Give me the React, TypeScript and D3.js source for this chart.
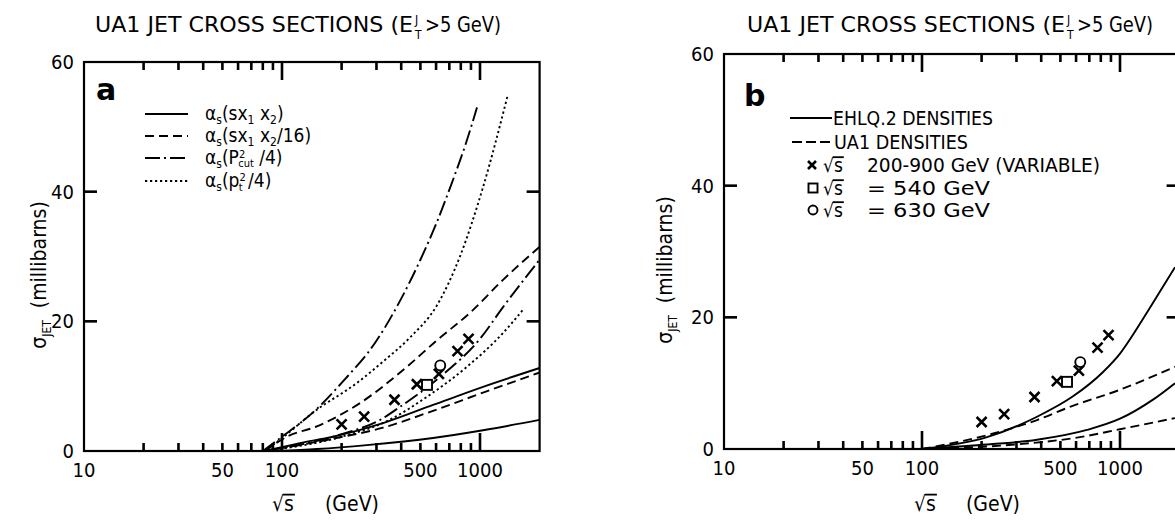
import React, { useRef, useEffect, useState } from 'react';
import * as d3 from 'd3';

const FONT = "'DejaVu Sans Condensed', 'DejaVu Sans', sans-serif";

// sqrt(s) in GeV on x, sigma_JET in millibarns on y
const xDomain = [10, 2000];
const yDomain = [0, 60];
const xLabelTicks = [10, 50, 100, 500, 1000];
const xMajorTicks = [100, 1000];
const xMinorTicks = [20, 30, 40, 50, 60, 70, 80, 90, 200, 300, 400, 500, 600, 700, 800, 900];
const yLabelTicks = [0, 20, 40, 60];
const yInnerTicks = [20, 40];

// panel a: predictions for the four alpha_s scales (two sets each)
const aSolidLow = [[95, 0], [150, 0.3], [268, 0.9], [579, 2.0], [1036, 3.2], [2000, 4.8]];
const aSolidHigh = [[82, 0], [123, 1.2], [181, 2.2], [324, 4.3], [579, 7.1], [1036, 9.9], [2000, 12.8]];
const aDashLow = [[82, 0], [181, 1.9], [324, 3.6], [579, 6.2], [1036, 9.0], [2000, 12.1]];
const aDashHigh = [[82, 0], [106, 2.2], [150, 3.8], [248, 7.4], [428, 13], [607, 17.1], [889, 21.3], [1307, 26.4], [2000, 31.5]];
const aDashDotMid = [[82, 0], [200, 2.6], [313, 4.8], [394, 6.8], [627, 11.4], [1000, 17.3], [1307, 22.2], [2000, 29.5]];
const aDashDotHigh = [[80, 0], [100, 2.2], [150, 6.5], [200, 10.5], [300, 17], [400, 23.5], [500, 29.5], [600, 35], [722, 41.4], [850, 47.5], [966, 53]];
const aDotMid = [[82, 0], [200, 2.2], [339, 4.6], [536, 8.3], [860, 13], [1307, 18.2], [1650, 21.8]];
const aDotHigh = [[82, 0], [106, 2.6], [143, 5.9], [239, 10.5], [330, 14], [443, 17.5], [607, 22.5], [792, 30], [1036, 40.7], [1384, 55]];

// panel b: EHLQ.2 (solid) vs UA1 (dashed) densities
const bSolidHigh = [[100, 0], [213, 1.8], [381, 4.9], [579, 8], [821, 11.7], [1000, 14.5], [1200, 18], [1419, 21.5], [1650, 24.7], [1896, 27.6]];
const bDashHigh = [[100, 0], [213, 2.1], [381, 4.4], [559, 6.4], [1000, 9.0], [1896, 12.5]];
const bSolidLow = [[100, 0], [175, 0.5], [381, 1.4], [681, 2.9], [1000, 4.6], [1468, 7.5], [1896, 10]];
const bDashLow = [[100, 0], [300, 0.7], [628, 1.8], [1000, 3.0], [1896, 4.7]];

// UA1 measurements
const crossE = [200, 260, 370, 480, 620, 770, 875];
const crossV = [4.1, 5.3, 7.9, 10.3, 11.9, 15.4, 17.3];
const squareE = [540];
const squareV = [10.2];
const circleE = [630];
const circleV = [13.2];

const DASH = { solid: undefined, dash: '9,5', dashdot: '15,4,2,4', dot: '2.2,2.8' };

const panels = [
  {
    key: 'a', left: 84, right: 539.6, top: 62, bottom: 451,
    curves: [
      [aSolidLow, 'solid'], [aSolidHigh, 'solid'], [aDashLow, 'dash'], [aDashHigh, 'dash'],
      [aDashDotMid, 'dashdot'], [aDashDotHigh, 'dashdot'], [aDotMid, 'dot'], [aDotHigh, 'dot'],
    ],
  },
  {
    key: 'b', left: 724, right: 1179.6, top: 54, bottom: 449,
    curves: [[bSolidHigh, 'solid'], [bDashHigh, 'dash'], [bSolidLow, 'solid'], [bDashLow, 'dash']],
  },
];

const Sub = ({ t, size = 12, dy = 4 }) => <tspan dy={dy} fontSize={size}>{t}</tspan>;

const Title = ({ x }) => (
  <g>
    <text x={x} y={32} fontSize={21} textLength={318} lengthAdjust="spacingAndGlyphs">UA1  JET CROSS SECTIONS (E</text>
    <text x={x + 320} y={24} fontSize={12}>J</text>
    <text x={x + 320} y={39} fontSize={12}>T</text>
    <text x={x + 330} y={32} fontSize={21} textLength={76} lengthAdjust="spacingAndGlyphs">&gt;5 GeV)</text>
  </g>
);

const YTitle = ({ x, y }) => (
  <text transform={`translate(${x},${y}) rotate(-90)`} textAnchor="middle" fontSize={21}>
    σ<Sub t="JET" size={12} dy={5} /><tspan dy={-5} dx={12}>(millibarns)</tspan>
  </text>
);

// a tick drawn as a small filled bar
const Bar = ({ x1, y1, x2, y2, w = 2.6 }) => (
  <rect
    x={Math.min(x1, x2) - (x1 === x2 ? w / 2 : 0)}
    y={Math.min(y1, y2) - (y1 === y2 ? w / 2 : 0)}
    width={x1 === x2 ? w : Math.abs(x2 - x1)}
    height={y1 === y2 ? w : Math.abs(y2 - y1)}
    fill="#000"
  />
);

const Panel = ({ p }) => {
  const x = d3.scaleLog().domain(xDomain).range([p.left, p.right]);
  const y = d3.scaleLinear().domain(yDomain).range([p.bottom, p.top]);
  const line = d3.line()
    .x((d) => x(d[0]))
    .y((d) => y(d[1]))
    .curve(d3.curveMonotoneX);
  const stroke = { stroke: '#000', strokeWidth: 1.9, fill: 'none' };
  const xt = (v, len, k) => (
    <g key={k}>
      <Bar x1={x(v)} x2={x(v)} y1={p.bottom - len} y2={p.bottom} />
      <Bar x1={x(v)} x2={x(v)} y1={p.top} y2={p.top + len} />
    </g>
  );
  return (
    <g>
      {xMinorTicks.map((v) => xt(v, 8, `m${v}`))}
      {xMajorTicks.map((v) => xt(v, 18, `M${v}`))}
      {yInnerTicks.map((v) => (
        <g key={v}>
          <Bar x1={p.left} x2={p.left + 13} y1={y(v)} y2={y(v)} />
          <Bar x1={p.right - 13} x2={p.right} y1={y(v)} y2={y(v)} />
        </g>
      ))}
      {xLabelTicks.map((v) => (
        <text key={v} x={x(v)} y={p.bottom + 26} textAnchor="middle" fontSize={20}>{d3.format('d')(v)}</text>
      ))}
      {yLabelTicks.map((v) => (
        <text key={v} x={p.left - 10} y={y(v) + 7} textAnchor="end" fontSize={20}>{d3.format('d')(v)}</text>
      ))}
      <rect x={p.left} y={p.top} width={p.right - p.left} height={p.bottom - p.top}
        fill="none" stroke="#000" strokeWidth={2.2} />
      {p.curves.map(([pts, style], i) => (
        <path key={i} d={line(pts)} {...stroke} strokeDasharray={DASH[style]} />
      ))}
      {crossE.map((e, i) => {
        const cx = x(e), cy = y(crossV[i]), r = 5;
        return (
          <path key={e} d={`M${cx - r},${cy - r}L${cx + r},${cy + r}M${cx - r},${cy + r}L${cx + r},${cy - r}`}
            stroke="#000" strokeWidth={2.6} />
        );
      })}
      {squareE.map((e, i) => (
        <rect key={e} x={x(e) - 5} y={y(squareV[i]) - 5} width={10} height={10}
          fill="#fff" stroke="#000" strokeWidth={1.9} />
      ))}
      {circleE.map((e, i) => (
        <circle key={e} cx={x(e)} cy={y(circleV[i])} r={5} fill="#fff" stroke="#000" strokeWidth={1.9} />
      ))}
    </g>
  );
};

const App = () => {
  const svgRef = useRef(null);
  const [bars, setBars] = useState([]);

  // vinculum over the s of every square root, measured from the laid-out text
  useEffect(() => {
    const out = [];
    svgRef.current.querySelectorAll('text.root').forEach((n) => {
      const fs = parseFloat(n.getAttribute('font-size'));
      const x0 = parseFloat(n.getAttribute('x'));
      const y0 = parseFloat(n.getAttribute('y'));
      let x1 = x0 + 0.55 * fs;
      let x2 = x0 + 1.03 * fs;
      try {
        x1 = n.getStartPositionOfChar(1).x;
        x2 = n.getEndPositionOfChar(1).x;
      } catch (e) {
        // keep the estimate
      }
      out.push({ x1: x1 - 1, x2: x2 + 1, y: y0 - 0.78 * fs });
    });
    setBars(out);
  }, []);

  const legA = [
    [114, DASH.solid],
    [136, DASH.dash],
    [158, DASH.dashdot],
    [181, DASH.dot],
  ];

  return (
    <svg ref={svgRef} width={1175} height={525} style={{ position: 'absolute', left: 0, top: 0, background: '#fff' }}
      fontFamily={FONT} fill="#000">
      <Title x={95} />
      <Title x={747} />

      {panels.map((p) => <Panel key={p.key} p={p} />)}

      {/* axis titles */}
      <text className="root" x={272} y={511} fontSize={21}>√s</text>
      <text x={325} y={511} fontSize={21}>(GeV)</text>
      <text className="root" x={914} y={511} fontSize={21}>√s</text>
      <text x={966} y={511} fontSize={21}>(GeV)</text>
      <YTitle x={46} y={275} />
      <YTitle x={672} y={270} />

      {/* panel letters */}
      <text x={96} y={100} fontSize={30} fontWeight="bold" fontFamily="'DejaVu Sans', sans-serif">a</text>
      <text x={744} y={106} fontSize={30} fontWeight="bold" fontFamily="'DejaVu Sans', sans-serif">b</text>

      {/* legend a */}
      {legA.map(([yy, dash]) => (
        <line key={yy} x1={145} x2={188} y1={yy} y2={yy} stroke="#000" strokeWidth={1.9} strokeDasharray={dash} />
      ))}
      <text x={205} y={120} fontSize={19}>
        α<Sub t="s" /><tspan dy={-4}>(sx</tspan><Sub t="1" /><tspan dy={-4}> x</tspan><Sub t="2" /><tspan dy={-4}>)</tspan>
      </text>
      <text x={205} y={142} fontSize={19}>
        α<Sub t="s" /><tspan dy={-4}>(sx</tspan><Sub t="1" /><tspan dy={-4}> x</tspan><Sub t="2" /><tspan dy={-4}>/16)</tspan>
      </text>
      <text x={205} y={164} fontSize={19}>
        α<Sub t="s" /><tspan dy={-4}>(P</tspan><tspan dy={-6} fontSize={11}>2</tspan>
        <tspan dx={-7} dy={9} fontSize={11}>cut</tspan><tspan dy={-3}>  /4)</tspan>
      </text>
      <text x={205} y={187} fontSize={19}>
        α<Sub t="s" /><tspan dy={-4}>(p</tspan><tspan dy={-6} fontSize={11}>2</tspan>
        <tspan dx={-7} dy={10} fontSize={11}>t</tspan><tspan dy={-4}>  /4)</tspan>
      </text>

      {/* legend b */}
      <line x1={790} x2={832} y1={118} y2={118} stroke="#000" strokeWidth={1.9} />
      <line x1={792} x2={833} y1={142} y2={142} stroke="#000" strokeWidth={1.9} strokeDasharray="10,4" />
      <text x={833} y={125} fontSize={19} textLength={160} lengthAdjust="spacingAndGlyphs">EHLQ.2 DENSITIES</text>
      <text x={834} y={149} fontSize={19} textLength={134} lengthAdjust="spacingAndGlyphs">UA1 DENSITIES</text>
      <path d="M808,161L816,169M808,169L816,161" stroke="#000" strokeWidth={2.6} />
      <rect x={808.5} y={183.5} width={9} height={9} fill="none" stroke="#000" strokeWidth={1.9} />
      <circle cx={813} cy={210} r={4.5} fill="none" stroke="#000" strokeWidth={1.9} />
      <text className="root" x={823} y={172} fontSize={19}>√s</text>
      <text x={867} y={172} fontSize={19} textLength={233} lengthAdjust="spacingAndGlyphs">200-900 GeV  (VARIABLE)</text>
      <text className="root" x={823} y={195} fontSize={19}>√s</text>
      <text x={867} y={195} fontSize={19} textLength={123} lengthAdjust="spacingAndGlyphs">=  540  GeV</text>
      <text className="root" x={823} y={217} fontSize={19}>√s</text>
      <text x={867} y={217} fontSize={19} textLength={123} lengthAdjust="spacingAndGlyphs">=  630  GeV</text>

      {bars.map((b, i) => (
        <Bar key={i} x1={b.x1} x2={b.x2} y1={b.y} y2={b.y} w={1.8} />
      ))}
    </svg>
  );
};

export default App;
